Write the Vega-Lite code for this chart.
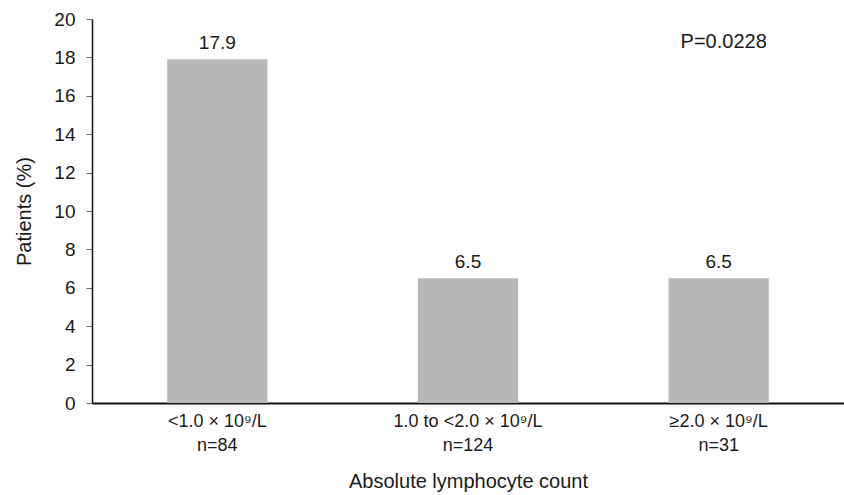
{
  "$schema": "https://vega.github.io/schema/vega-lite/v6.json",
  "width": 752,
  "height": 384,
  "autosize": {"type": "none"},
  "padding": {"left": 92, "top": 19, "right": 0, "bottom": 92},
  "background": "white",
  "config": {
    "font": "Liberation Sans",
    "view": {"stroke": null}
  },
  "data": {
    "values": [
      {"group": "<1.0 × 10⁹/L\nn=84", "pct": 17.9, "note": ""},
      {"group": "1.0 to <2.0 × 10⁹/L\nn=124", "pct": 6.5, "note": ""},
      {"group": "≥2.0 × 10⁹/L\nn=31", "pct": 6.5, "note": "P=0.0228"}
    ]
  },
  "encoding": {
    "x": {
      "field": "group",
      "type": "nominal",
      "sort": null,
      "scale": {"paddingInner": 0.6, "paddingOuter": 0.3},
      "axis": {
        "title": "Absolute lymphocyte count",
        "titleFontSize": 20,
        "titleFontWeight": "normal",
        "titleColor": "#1a1a1a",
        "titlePadding": 17,
        "labelExpr": "split(datum.label, '\\n')",
        "labelAngle": 0,
        "labelFontSize": 18,
        "labelColor": "#1a1a1a",
        "labelLineHeight": 24,
        "labelPadding": 9,
        "ticks": false,
        "domainColor": "#111",
        "domainWidth": 2
      }
    },
    "y": {
      "field": "pct",
      "type": "quantitative",
      "scale": {"domain": [0, 20], "nice": false},
      "axis": {
        "title": "Patients (%)",
        "titleFontSize": 20,
        "titleFontWeight": "normal",
        "titleColor": "#1a1a1a",
        "titlePadding": 19,
        "values": [0, 2, 4, 6, 8, 10, 12, 14, 16, 18, 20],
        "grid": false,
        "labelFontSize": 19,
        "labelColor": "#1a1a1a",
        "labelPadding": 11,
        "tickSize": 6,
        "tickColor": "#666",
        "domainColor": "#111",
        "domainWidth": 1.5
      }
    }
  },
  "layer": [
    {"mark": {"type": "bar", "color": "#b8b8b8"}},
    {
      "mark": {"type": "text", "baseline": "alphabetic", "dy": -10, "fontSize": 19, "color": "#1a1a1a"},
      "encoding": {"text": {"field": "pct", "type": "quantitative", "format": ".1f"}}
    },
    {
      "transform": [{"filter": "datum.note != ''"}],
      "mark": {"type": "text", "fontSize": 20, "fontWeight": "normal", "color": "#1a1a1a", "dx": 5, "baseline": "alphabetic"},
      "encoding": {
        "y": {"datum": 18.5},
        "text": {"field": "note"}
      }
    }
  ]
}
